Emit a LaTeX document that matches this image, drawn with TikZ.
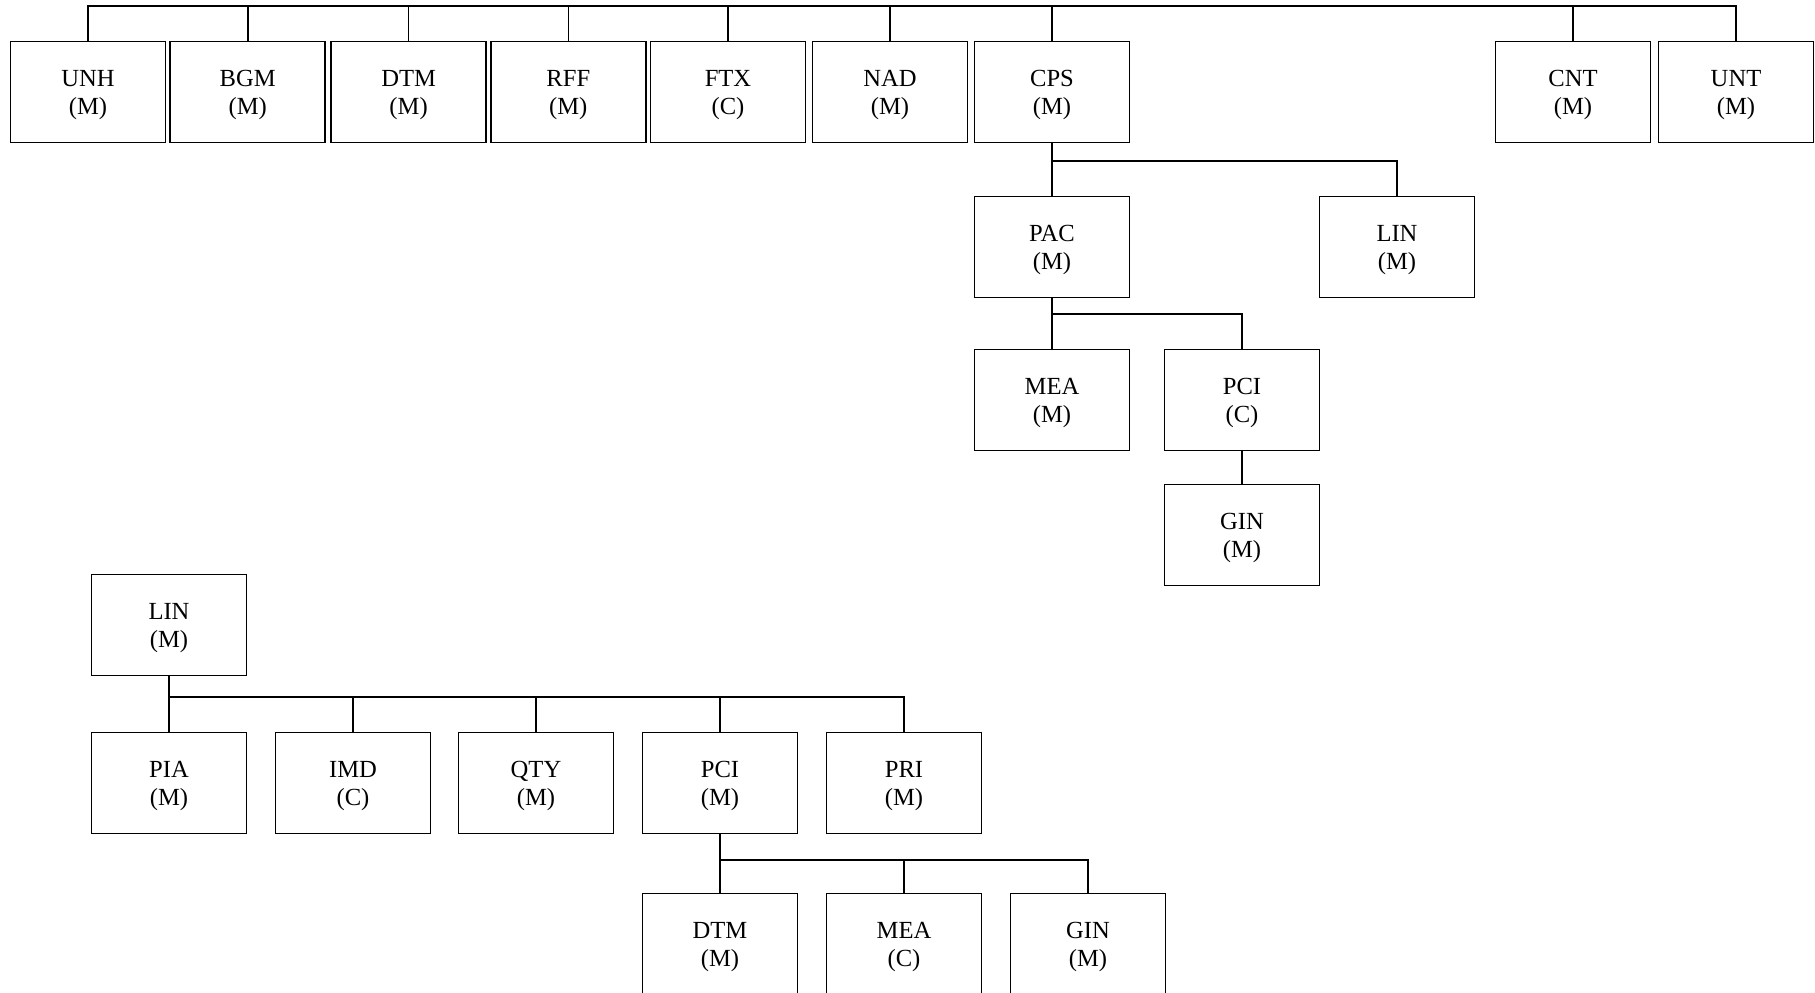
\documentclass[tikz,border=0pt]{standalone}
\usepackage{fontspec}
\setmainfont{Liberation Serif}
\usetikzlibrary{calc}
\tikzset{
  blk/.style={draw=black, line width=0.75pt, minimum width=77.5pt, minimum height=50.35pt,
    align=center, inner sep=0pt, font=\fontsize{12.3}{13.9}\selectfont,
    text height=25.2pt},
  wire/.style={draw=black, line width=0.8pt, line cap=rect},
}
\begin{document}
\begin{tikzpicture}[x=0.5pt, y=-0.5pt]
  \clip (0,0) rectangle (1815,992);
  % top level segments
  \node[blk] (UNH) at (88,92)     {UNH\\(M)};
  \node[blk] (BGM) at (247.7,92)  {BGM\\(M)};
  \node[blk] (DTM) at (408.6,92)  {DTM\\(M)};
  \node[blk] (RFF) at (568.3,92)  {RFF\\(M)};
  \node[blk] (FTX) at (728,92)    {FTX\\(C)};
  \node[blk] (NAD) at (890,92)    {NAD\\(M)};
  \node[blk] (CPS) at (1052,92)   {CPS\\(M)};
  \node[blk] (CNT) at (1573,92)   {CNT\\(M)};
  \node[blk] (UNT) at (1736,92)   {UNT\\(M)};
  \coordinate (busA) at (0,5.8);
  \draw[wire] (UNH.north) -- (UNH.north |- busA) -- (UNT.north |- busA) -- (UNT.north);
  \foreach \n in {BGM,DTM,RFF,FTX,NAD,CPS,CNT}
    \draw[wire] (\n.north) -- (\n.north |- busA);
  % CPS group
  \node[blk] (PAC) at (1052,247)  {PAC\\(M)};
  \node[blk] (LINa) at (1397,247) {LIN\\(M)};
  \coordinate (busB) at (0,161);
  \draw[wire] (CPS.south) -- (PAC.north);
  \draw[wire] (PAC.north |- busB) -| (LINa.north);
  \node[blk] (MEAa) at (1052,400) {MEA\\(M)};
  \node[blk] (PCIa) at (1242,400) {PCI\\(C)};
  \coordinate (busC) at (0,313.7);
  \draw[wire] (PAC.south) -- (MEAa.north);
  \draw[wire] (MEAa.north |- busC) -| (PCIa.north);
  \node[blk] (GINa) at (1242,535) {GIN\\(M)};
  \draw[wire] (PCIa.south) -- (GINa.north);
  % LIN group
  \node[blk] (LINb) at (169,625)  {LIN\\(M)};
  \node[blk] (PIA) at (169,783)   {PIA\\(M)};
  \node[blk] (IMD) at (353,783)   {IMD\\(C)};
  \node[blk] (QTY) at (536,783)   {QTY\\(M)};
  \node[blk] (PCIb) at (720,783)  {PCI\\(M)};
  \node[blk] (PRI) at (904,783)   {PRI\\(M)};
  \coordinate (busD) at (0,696.8);
  \draw[wire] (LINb.south) -- (PIA.north);
  \draw[wire] (PIA.north |- busD) -| (PRI.north);
  \foreach \n in {IMD,QTY,PCIb}
    \draw[wire] (\n.north) -- (\n.north |- busD);
  \node[blk] (DTMb) at (720,944)  {DTM\\(M)};
  \node[blk] (MEAb) at (904,944)  {MEA\\(C)};
  \node[blk] (GINb) at (1088,944) {GIN\\(M)};
  \coordinate (busE) at (0,860);
  \draw[wire] (PCIb.south) -- (DTMb.north);
  \draw[wire] (DTMb.north |- busE) -| (GINb.north);
  \draw[wire] (MEAb.north) -- (MEAb.north |- busE);
\end{tikzpicture}
\end{document}
